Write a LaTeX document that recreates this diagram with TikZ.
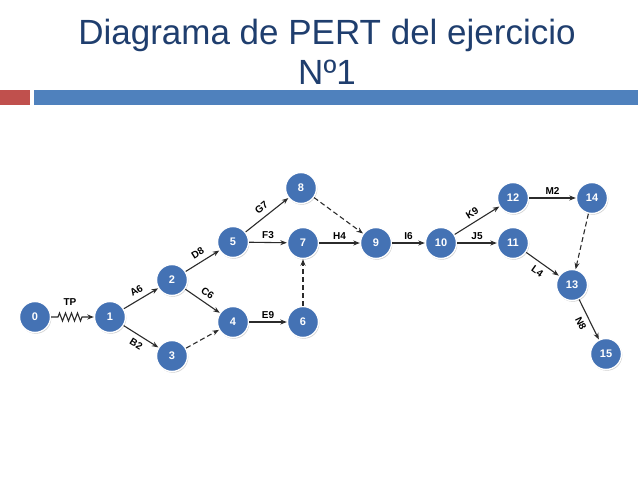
\documentclass[tikz,border=0pt]{standalone}
\usepackage{fontspec}
\setmainfont{Liberation Sans}
\usetikzlibrary{arrows.meta,shadows,decorations.pathmorphing}
\definecolor{titleblue}{HTML}{1F3E6E}
\definecolor{barred}{HTML}{C0504D}
\definecolor{barblue}{HTML}{4F81BD}
\definecolor{nodeblue}{HTML}{4472B4}
\definecolor{edgegray}{HTML}{2B2B2B}

\begin{document}
\begin{tikzpicture}[x=1pt,y=-1pt]
    \tikzstyle{event}=[
        circle,
        draw = white,
        line width = 1.4pt,
        fill = nodeblue,
        minimum size = 31pt,
        inner sep = 0pt,
        text = white,
        font = \fontsize{11}{13}\selectfont\bfseries,
        drop shadow = {shadow xshift=0.8pt, shadow yshift=-1.2pt, opacity=0.4}
    ]
    \tikzstyle{act}=[
        -{Stealth[length=6.5pt,width=5pt]},
        draw = edgegray,
        line width = 1.1pt
    ]
    \tikzstyle{dummy}=[act, dash pattern=on 5pt off 3pt]
    \tikzstyle{lbl}=[
        font = \fontsize{10}{12}\selectfont\bfseries,
        text = black,
        inner sep = 3pt
    ]

    \useasboundingbox (0,0) rectangle (638,479);

    % title and bar
    \node[titleblue, font=\fontsize{35}{42}\selectfont, anchor=base] (title) at (327,44) {Diagrama de PERT del ejercicio};
    \node[titleblue, font=\fontsize{35}{42}\selectfont, anchor=base] (titleno) at (327,84) {Nº1};
    \fill[barred]  (0,90) rectangle (30,105);
    \fill[barblue] (34,90) rectangle (638,105);

    % events
    \node[event] (n0)  at (35,317)  {0};
    \node[event] (n1)  at (110,317) {1};
    \node[event] (n2)  at (172,280) {2};
    \node[event] (n3)  at (172,356) {3};
    \node[event] (n4)  at (233,322) {4};
    \node[event] (n5)  at (233,242) {5};
    \node[event] (n6)  at (303,322) {6};
    \node[event] (n7)  at (303,243) {7};
    \node[event] (n8)  at (301,188) {8};
    \node[event] (n9)  at (376,243) {9};
    \node[event] (n10) at (441,243) {10};
    \node[event] (n11) at (513,243) {11};
    \node[event] (n12) at (513,198) {12};
    \node[event] (n13) at (572,285) {13};
    \node[event] (n14) at (592,198) {14};
    \node[event] (n15) at (606,354) {15};

    % TP with zigzag
    \coordinate (tp in)  at (58,317);
    \coordinate (tp out) at (82,317);
    \draw[act] (n0) -- (tp in)
        decorate[decoration={zigzag, amplitude=4pt, segment length=6pt}] {-- (tp out)}
        -- (n1);
    \path (tp in) -- node[lbl, above=8pt] {TP} (tp out);

    % activities
    \path[act] (n1)  edge node[lbl, sloped, above=2pt] {A6} (n2);
    \path[act] (n1)  edge node[lbl, sloped, below=2pt] {B2} (n3);
    \path[act] (n2)  edge node[lbl, sloped, above=2pt] {D8} (n5);
    \path[act] (n2)  edge node[lbl, sloped, above=2pt] {C6} (n4);
    \path[act] (n5)  edge node[lbl, sloped, above=2pt] {G7} (n8);
    \path[act] (n5)  edge node[lbl, above] {F3} (n7);
    \path[act] (n4)  edge node[lbl, above] {E9} (n6);
    \path[act] (n7)  edge node[lbl, above] {H4} (n9);
    \path[act] (n9)  edge node[lbl, above] {I6} (n10);
    \path[act] (n10) edge node[lbl, sloped, above=2pt] {K9} (n12);
    \path[act] (n10) edge node[lbl, above] {J5} (n11);
    \path[act] (n12) edge node[lbl, above] {M2} (n14);
    \path[act] (n11) edge node[lbl, sloped, below=2pt] {L4} (n13);
    \path[act] (n13) edge node[lbl, sloped, below=2pt] {N8} (n15);

    % dummies
    \path[dummy] (n8)  edge (n9);
    \path[dummy] (n3)  edge (n4);
    \path[dummy] (n6)  edge (n7);
    \path[dummy] (n14) edge (n13);

\end{tikzpicture}
\end{document}
